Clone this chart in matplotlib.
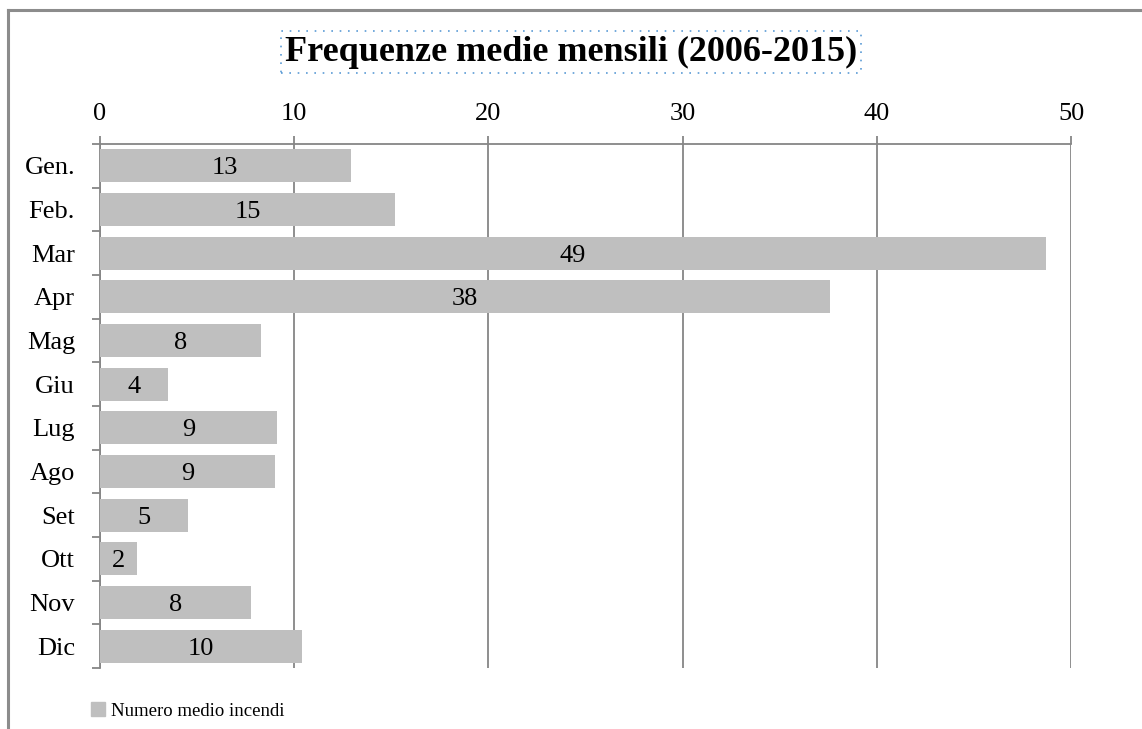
import matplotlib.pyplot as plt
from matplotlib.lines import Line2D
from matplotlib.patches import Patch
import numpy as np

mesi = ['Gen.', 'Feb.', 'Mar', 'Apr', 'Mag', 'Giu', 'Lug', 'Ago', 'Set', 'Ott', 'Nov', 'Dic']
incendi = [12.9, 15.2, 48.7, 37.6, 8.3, 3.5, 9.1, 9.0, 4.55, 1.9, 7.8, 10.4]
xticks = [0, 10, 20, 30, 40, 50]

plt.rcParams['font.family'] = ['Liberation Serif', 'DejaVu Serif']

grid_col = '#868686'
bar_col = '#BFBFBF'

fig = plt.figure(figsize=(11.42, 7.29), dpi=100)
ax = fig.add_axes([100/1142, 1 - 668/729, 971/1142, 524/729])

y = np.arange(len(mesi))
ax.barh(y, incendi, height=0.76, color=bar_col, zorder=3)
for yi, v in zip(y, incendi):
    ax.text(v / 2, yi, str(int(round(v))), ha='center', va='center_baseline', fontsize=19, zorder=4)

ax.set_xlim(0, 50)
ax.set_ylim(len(mesi) - 0.5, -0.5)
ax.xaxis.tick_top()
ax.set_xticks(xticks)
ax.set_xticklabels([str(t) for t in xticks], fontsize=19)
ax.tick_params(axis='x', length=6, width=1.3, color=grid_col, pad=8)
ax.grid(axis='x', color=grid_col, linewidth=1.3, zorder=1)

ax.set_yticks(y)
ax.set_yticklabels(mesi, fontsize=19)
ax.set_yticks(np.arange(len(mesi) + 1) - 0.5, minor=True)
ax.tick_params(axis='y', which='major', length=0, pad=18)
ax.tick_params(axis='y', which='minor', length=6, width=1.3, color=grid_col)

for s in ['right', 'bottom']:
    ax.spines[s].set_visible(False)
for s in ['top', 'left']:
    ax.spines[s].set_color(grid_col)
    ax.spines[s].set_linewidth(1.3)

# titolo
fig.text(0.5, 1 - 52/729, 'Frequenze medie mensili (2006-2015)', ha='center', va='center',
         fontsize=26, fontweight='bold',
         bbox=dict(boxstyle='square,pad=0.12', facecolor='none', edgecolor='#5B9BD5',
                   linestyle=(0, (1, 4)), linewidth=1.2))

# legenda
fig.legend(handles=[Patch(color=bar_col, label='Numero medio incendi')],
           loc='center left', bbox_to_anchor=(74/1142, 1 - 711/729), frameon=False,
           fontsize=13.5, handlelength=0.75, handleheight=0.75, handletextpad=0.3)

# bordo esterno
fig.add_artist(Line2D([8/1142, 8/1142], [0, 1 - 10/729], color='#8C8C8C', linewidth=2.2))
fig.add_artist(Line2D([8/1142, 1], [1 - 10/729, 1 - 10/729], color='#8C8C8C', linewidth=2.2))

fig.savefig('out.png', dpi=100)
